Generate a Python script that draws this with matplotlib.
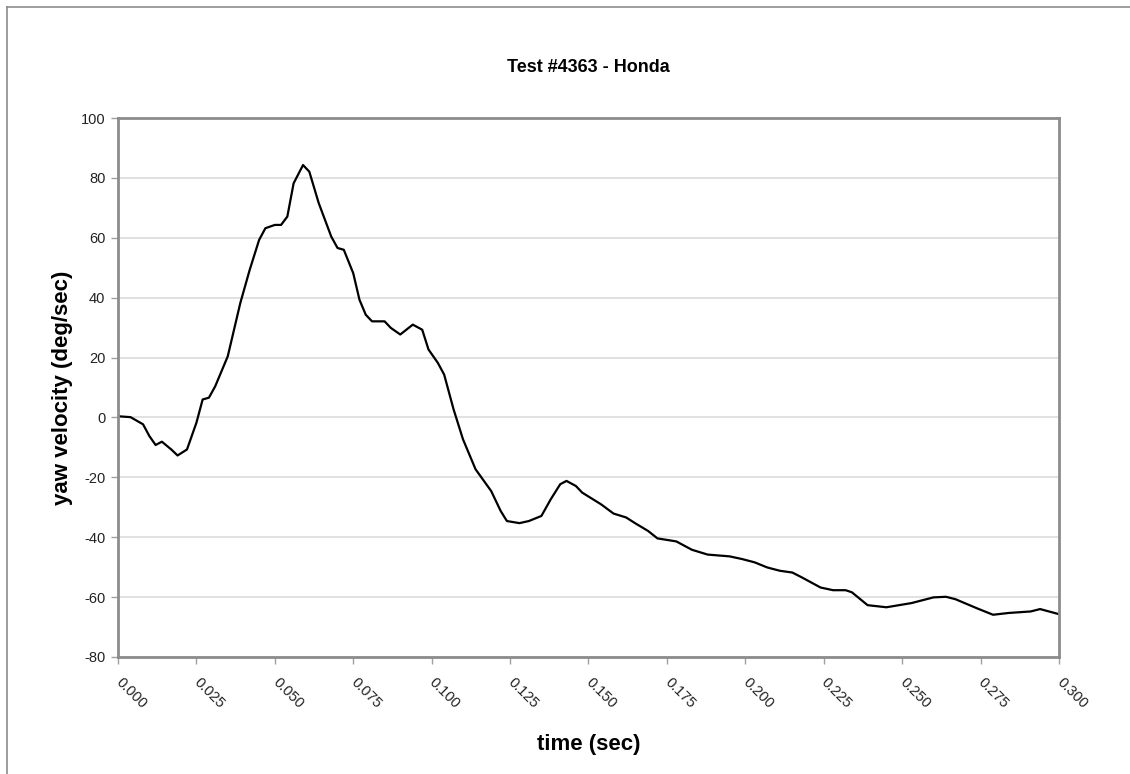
import matplotlib.pyplot as plt
from matplotlib.lines import Line2D

plt.rcParams['font.family'] = ['Liberation Sans', 'DejaVu Sans']

# yaw velocity trace (time in sec, deg/sec)
time_s = [0.000, 0.004, 0.008, 0.010, 0.012, 0.014, 0.017, 0.019, 0.022, 0.025,
          0.027, 0.029, 0.031, 0.035, 0.039, 0.042, 0.045, 0.047, 0.050, 0.052,
          0.054, 0.056, 0.059, 0.061, 0.064, 0.068, 0.070, 0.072, 0.075, 0.077,
          0.079, 0.081, 0.085, 0.087, 0.090, 0.094, 0.097, 0.099, 0.102, 0.104,
          0.107, 0.110, 0.114, 0.119, 0.122, 0.124, 0.128, 0.131, 0.135, 0.138,
          0.141, 0.143, 0.146, 0.148, 0.154, 0.158, 0.162, 0.165, 0.169, 0.172,
          0.178, 0.183, 0.188, 0.195, 0.199, 0.203, 0.207, 0.211, 0.215, 0.218,
          0.224, 0.228, 0.232, 0.234, 0.239, 0.245, 0.253, 0.260, 0.264, 0.267,
          0.274, 0.279, 0.284, 0.291, 0.294, 0.300]
yaw_vel = [0.4, 0.1, -2.3, -6.2, -9.2, -8.1, -10.7, -12.7, -10.7, -1.8,
           6.0, 6.6, 10.4, 20.4, 38.2, 49.3, 59.3, 63.2, 64.3, 64.3,
           67.1, 78.2, 84.3, 82.1, 71.6, 60.4, 56.6, 56.0, 48.2, 39.3,
           34.3, 32.1, 32.1, 29.9, 27.7, 31.0, 29.3, 22.7, 18.2, 14.3,
           2.7, -7.3, -17.3, -24.6, -31.2, -34.6, -35.3, -34.6, -32.9, -27.3,
           -22.3, -21.2, -22.9, -25.1, -29.0, -32.1, -33.4, -35.4, -37.9, -40.4,
           -41.4, -44.2, -45.8, -46.4, -47.3, -48.4, -50.1, -51.2, -51.8, -53.4,
           -56.8, -57.7, -57.7, -58.4, -62.7, -63.4, -62.0, -60.1, -59.9, -60.7,
           -63.8, -65.9, -65.3, -64.8, -64.0, -65.7]

x_ticks = [0.000, 0.025, 0.050, 0.075, 0.100, 0.125, 0.150, 0.175, 0.200,
           0.225, 0.250, 0.275, 0.300]
y_ticks = [-80, -60, -40, -20, 0, 20, 40, 60, 80, 100]

fig = plt.figure(figsize=(11.3, 7.74), dpi=100)
ax = fig.add_axes([0.1044, 0.1512, 0.8327, 0.6963])

# outer chart frame (top and left edges only show in the crop)
fig.add_artist(Line2D([7/1130, 1], [1 - 7/774, 1 - 7/774], color='#8c8c8c', lw=1.2))
fig.add_artist(Line2D([7/1130, 7/1130], [0, 1 - 7/774], color='#8c8c8c', lw=1.2))

ax.plot(time_s, yaw_vel, color='black', lw=1.6, solid_joinstyle='round')

ax.set_xlim(0, 0.3)
ax.set_ylim(-80, 100)
ax.set_xticks(x_ticks)
ax.set_xticklabels(['%.3f' % t for t in x_ticks], rotation=-45, ha='left',
                   va='center', rotation_mode='anchor', fontsize=10.5)
ax.set_yticks(y_ticks)
ax.set_yticklabels([str(v) for v in y_ticks], fontsize=10.5)
ax.tick_params(axis='both', direction='out', length=5, width=1, color='#a0a0a0',
               labelcolor='#222222', pad=4)
ax.tick_params(axis='x', pad=12)

ax.grid(True, axis='y', color='#dcdcdc', lw=1.2)
ax.set_axisbelow(True)
for s in ax.spines.values():
    s.set_color('#8c8c8c')
    s.set_linewidth(2)

ax.set_title('Test #4363 - Honda', fontsize=13, fontweight='bold', pad=33)
ax.set_xlabel('time (sec)', fontsize=16, fontweight='bold', labelpad=16)
ax.set_ylabel('yaw velocity (deg/sec)', fontsize=16, fontweight='bold', labelpad=6)

fig.savefig('out.png', dpi=100)
